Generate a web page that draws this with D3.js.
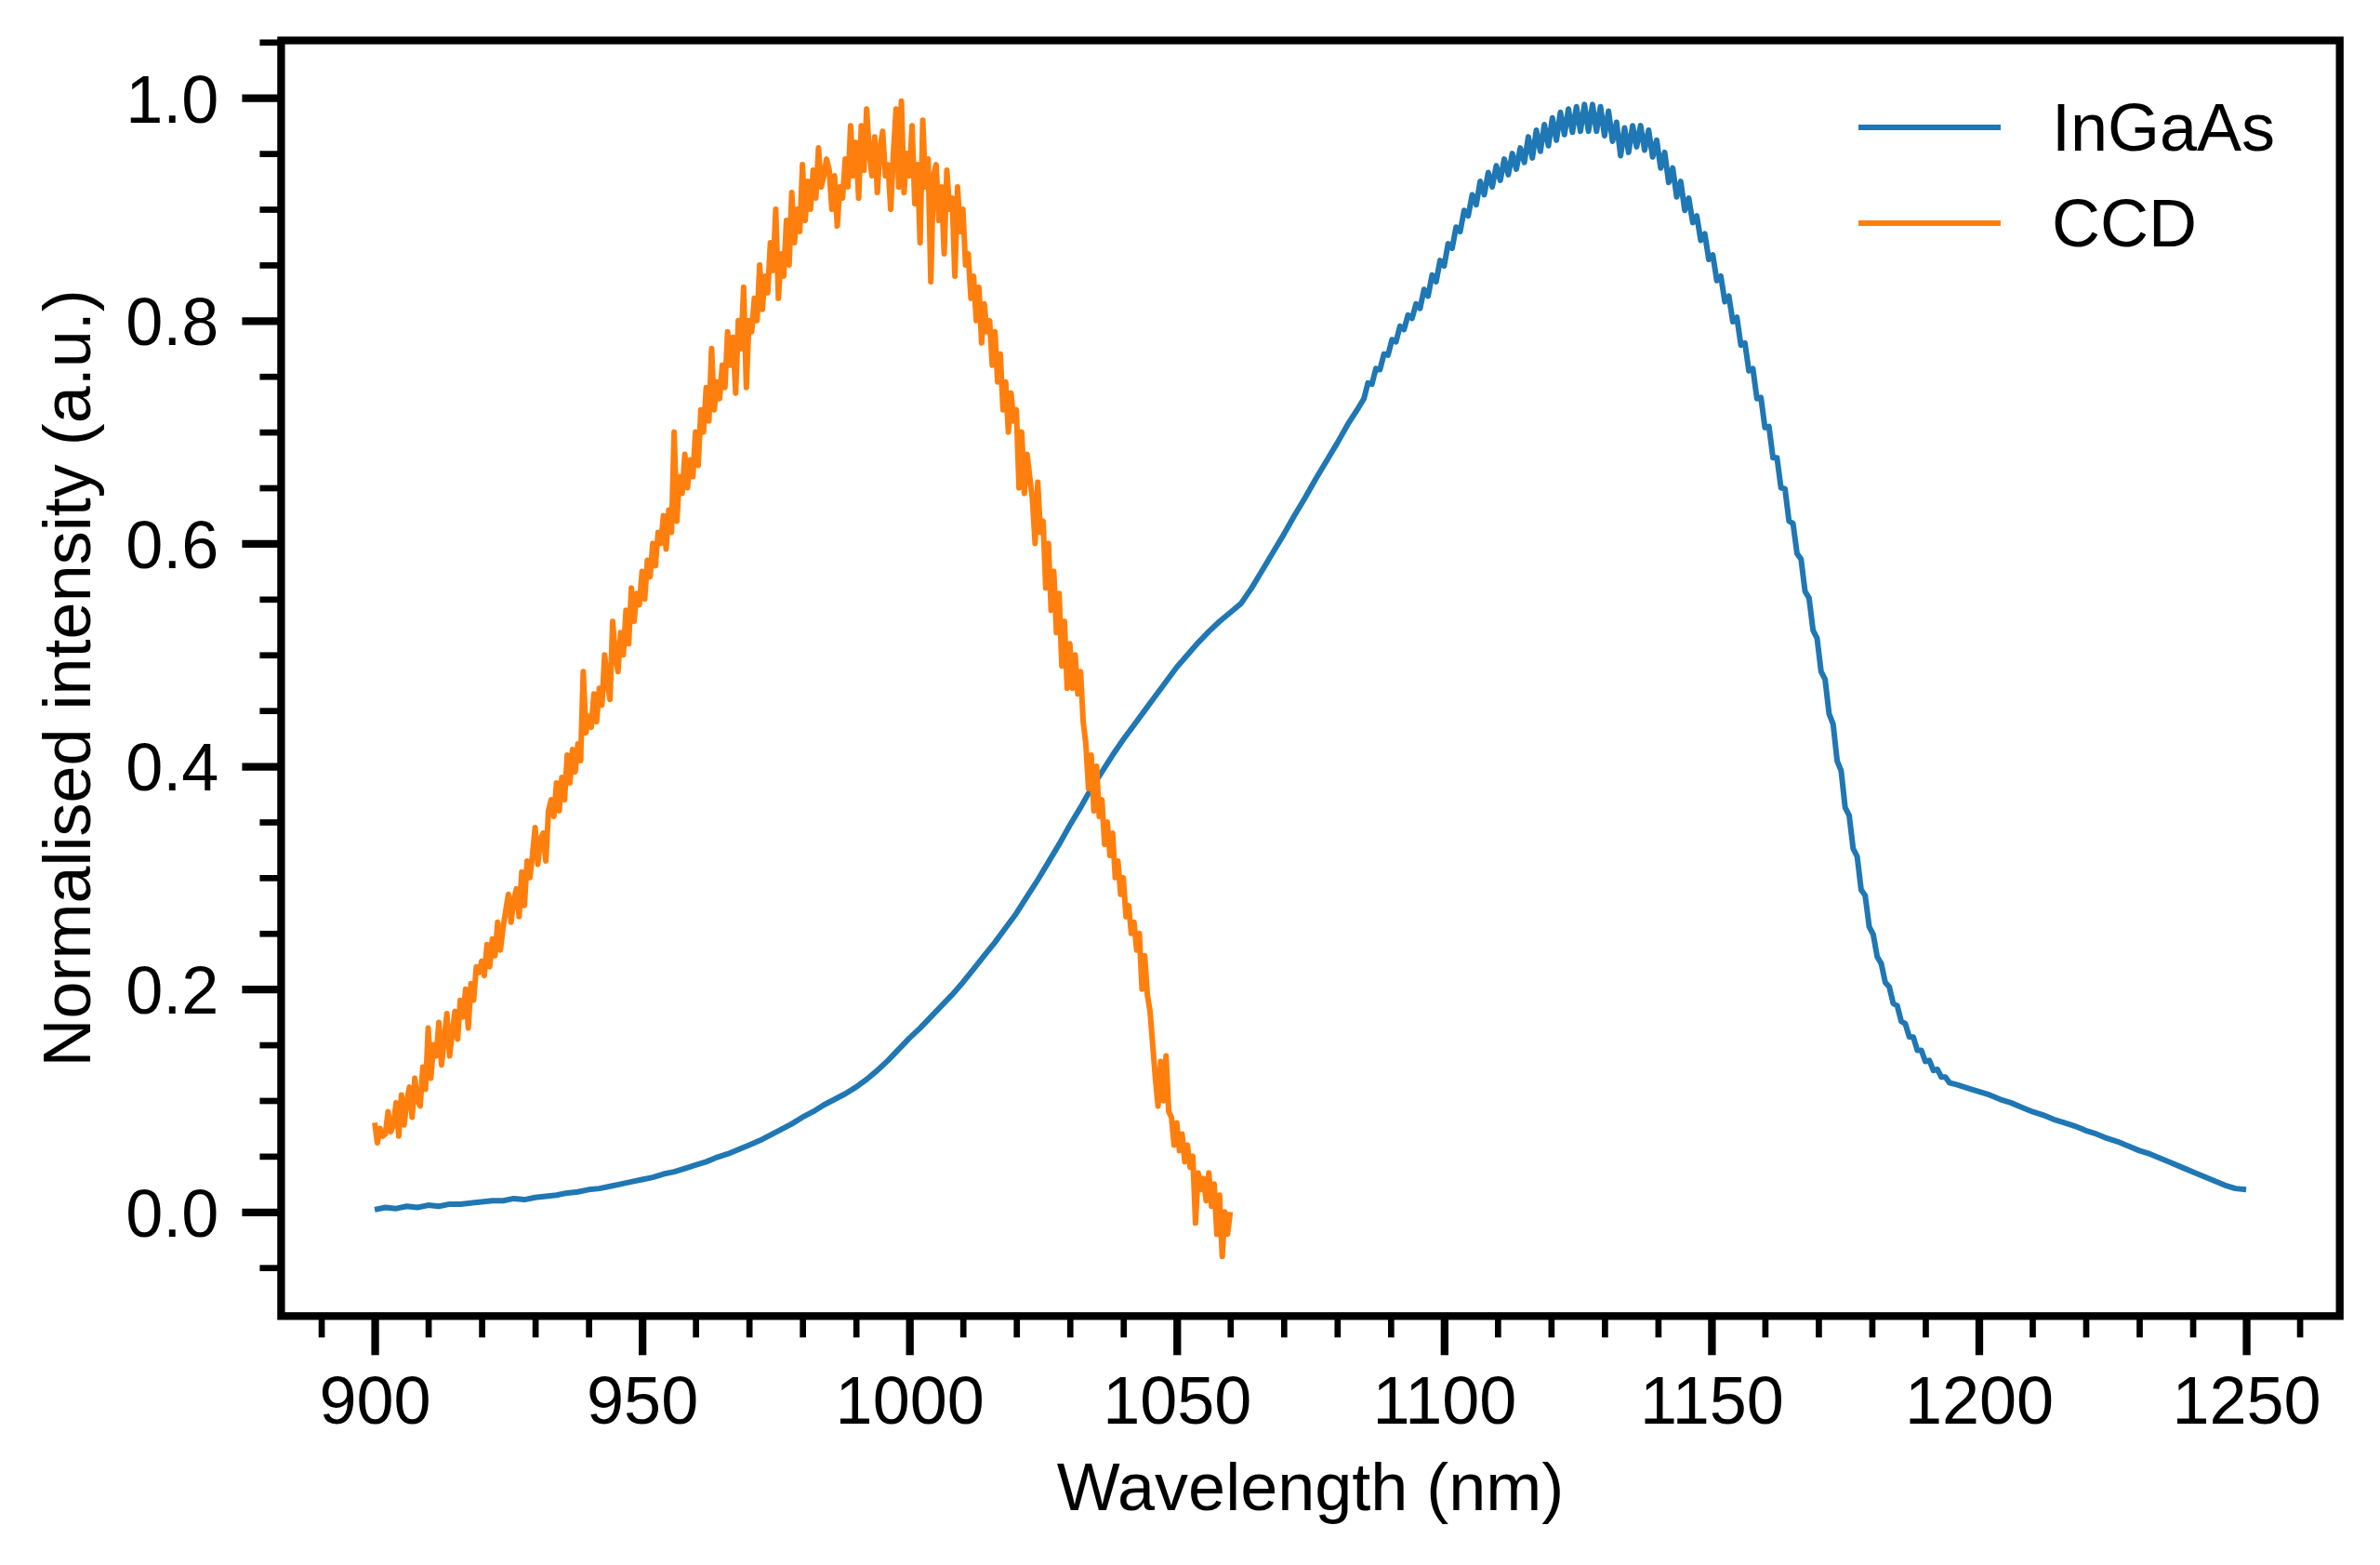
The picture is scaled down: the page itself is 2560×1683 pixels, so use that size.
<!DOCTYPE html>
<html>
<head>
<meta charset="utf-8">
<script src="https://cdn.jsdelivr.net/npm/d3@7"></script>
<style>
  body { margin: 0; background: #fff; }
  svg { display: block; background: #fff; }
</style>
</head>
<body>
<svg id="chart" width="2560" height="1683"></svg>
<script>
// wavelength grids (nm) of the two spectra
const ccdWavelength = d3.range(321).map(i => 900 + i * 0.5);
const ingaasGridA = d3.range(900, 1085, 2);
const ingaasGridB = d3.range(147).map(i => 1085 + i * 0.75);
const ingaasGridC = d3.range(1196, 1251, 2);

// CCD, 900 - 1060 nm every 0.5 nm
const ccdIntensity = [
    0.08, 0.062, 0.075, 0.068, 0.07, 0.09, 0.072, 0.078, 0.098, 0.068,
    0.105, 0.078, 0.10, 0.112, 0.085, 0.12, 0.10, 0.095, 0.13, 0.11,
    0.165, 0.12, 0.15, 0.14, 0.17, 0.132, 0.155, 0.178, 0.14, 0.16,
    0.18, 0.155, 0.19, 0.175, 0.2, 0.165, 0.205, 0.19, 0.22, 0.215,
    0.225, 0.212, 0.24, 0.22, 0.245, 0.23, 0.26, 0.235, 0.255, 0.27,
    0.285, 0.26, 0.28, 0.29, 0.265, 0.305, 0.275, 0.315, 0.3, 0.32,
    0.345, 0.312, 0.335, 0.34, 0.315, 0.36, 0.37, 0.355, 0.385, 0.36,
    0.39, 0.37, 0.41, 0.385, 0.415, 0.395, 0.42, 0.405, 0.485, 0.43,
    0.445, 0.435, 0.465, 0.44, 0.47, 0.455, 0.5, 0.475, 0.46, 0.53,
    0.5, 0.485, 0.52, 0.5, 0.54, 0.51, 0.56, 0.53, 0.555, 0.545,
    0.575, 0.55, 0.585, 0.57, 0.6, 0.58, 0.61, 0.6, 0.625, 0.595,
    0.63, 0.61, 0.7, 0.62, 0.66, 0.645, 0.68, 0.65, 0.675, 0.66,
    0.7, 0.67, 0.72, 0.7, 0.74, 0.71, 0.775, 0.72, 0.745, 0.73,
    0.76, 0.74, 0.79, 0.76, 0.785, 0.735, 0.8, 0.775, 0.83, 0.74,
    0.8, 0.79, 0.82, 0.8, 0.85, 0.81, 0.84, 0.825, 0.87, 0.845,
    0.9, 0.82, 0.86, 0.84, 0.89, 0.85, 0.915, 0.87, 0.9, 0.88,
    0.94, 0.89, 0.925, 0.9, 0.935, 0.91, 0.955, 0.92, 0.93, 0.945,
    0.935, 0.9, 0.93, 0.885, 0.92, 0.91, 0.945, 0.92, 0.975, 0.93,
    0.96, 0.91, 0.975, 0.935, 0.99, 0.95, 0.93, 0.965, 0.915, 0.955,
    0.97, 0.93, 0.94, 0.9, 0.95, 0.99, 0.92, 0.997, 0.915, 0.95,
    0.93, 0.975, 0.905, 0.94, 0.87, 0.98, 0.92, 0.945, 0.835, 0.93,
    0.94, 0.89, 0.92, 0.86, 0.935, 0.9, 0.91, 0.84, 0.92, 0.88,
    0.9, 0.85, 0.86, 0.82, 0.84, 0.8, 0.83, 0.78, 0.815, 0.79,
    0.8, 0.76, 0.79, 0.745, 0.77, 0.72, 0.745, 0.7, 0.735, 0.71,
    0.72, 0.65, 0.7, 0.645, 0.68, 0.66, 0.64, 0.6, 0.655, 0.61,
    0.62, 0.56, 0.6, 0.54, 0.575, 0.52, 0.555, 0.49, 0.53, 0.47,
    0.51, 0.47, 0.5, 0.465, 0.485, 0.44, 0.42, 0.38, 0.41, 0.36,
    0.4, 0.355, 0.37, 0.33, 0.35, 0.32, 0.34, 0.3, 0.315, 0.285,
    0.3, 0.265, 0.275, 0.25, 0.26, 0.235, 0.25, 0.2, 0.23, 0.195,
    0.18, 0.15, 0.12, 0.095, 0.135, 0.1, 0.14, 0.09, 0.085, 0.06,
    0.08, 0.055, 0.07, 0.045, 0.06, 0.04, 0.05, -0.01, 0.035, 0.02,
    0.03, 0.01, 0.035, 0.005, 0.025, -0.02, 0.015, -0.04, 0.0, -0.02,
    0.0
];

// InGaAs, 900 - 1084 nm every 2 nm
const ingaasIntensityA = [
    0.002, 0.004, 0.003, 0.005, 0.004, 0.006, 0.005, 0.007, 0.007, 0.008,
    0.009, 0.010, 0.010, 0.012, 0.011, 0.013, 0.014, 0.015, 0.017, 0.018,
    0.020, 0.021, 0.023, 0.025, 0.027, 0.029, 0.031, 0.034, 0.036, 0.039,
    0.042, 0.045, 0.049, 0.052, 0.056, 0.060, 0.064, 0.069, 0.074, 0.079,
    0.085, 0.090, 0.096, 0.101, 0.106, 0.112, 0.119, 0.127, 0.136, 0.146,
    0.156, 0.165, 0.175, 0.185, 0.195, 0.206, 0.218, 0.230, 0.242, 0.255,
    0.268, 0.283, 0.298, 0.314, 0.330, 0.347, 0.363, 0.380, 0.395, 0.410,
    0.424, 0.437, 0.450, 0.463, 0.476, 0.489, 0.500, 0.511, 0.521, 0.530,
    0.538, 0.546, 0.560, 0.576, 0.592, 0.608, 0.625, 0.641, 0.658, 0.674,
    0.690, 0.707, 0.722
];

// InGaAs, 1085 - 1194.5 nm every 0.75 nm (fringes around the peak)
const ingaasIntensityB = [
    0.730, 0.744, 0.743, 0.757, 0.756, 0.770, 0.769, 0.783, 0.781, 0.795,
    0.792, 0.805, 0.802, 0.815, 0.811, 0.828, 0.822, 0.841, 0.835, 0.854,
    0.849, 0.869, 0.865, 0.884, 0.880, 0.899, 0.894, 0.913, 0.904, 0.925,
    0.913, 0.933, 0.920, 0.939, 0.926, 0.945, 0.931, 0.950, 0.936, 0.955,
    0.942, 0.965, 0.946, 0.971, 0.952, 0.976, 0.957, 0.982, 0.962, 0.987,
    0.967, 0.990, 0.969, 0.992, 0.970, 0.994, 0.970, 0.994, 0.970, 0.992,
    0.966, 0.988, 0.961, 0.978, 0.948, 0.973, 0.951, 0.975, 0.956, 0.975,
    0.953, 0.971, 0.947, 0.962, 0.937, 0.951, 0.924, 0.937, 0.911, 0.925,
    0.899, 0.910, 0.888, 0.894, 0.872, 0.878, 0.855, 0.859, 0.836, 0.840,
    0.817, 0.822, 0.799, 0.803, 0.778, 0.780, 0.755, 0.757, 0.730, 0.731,
    0.704, 0.705, 0.677, 0.677, 0.650, 0.649, 0.620, 0.618, 0.591, 0.586,
    0.557, 0.551, 0.522, 0.515, 0.485, 0.478, 0.447, 0.438, 0.405, 0.396,
    0.363, 0.356, 0.326, 0.319, 0.289, 0.284, 0.256, 0.249, 0.229, 0.223,
    0.206, 0.202, 0.187, 0.185, 0.171, 0.169, 0.157, 0.157, 0.145, 0.145,
    0.135, 0.136, 0.127, 0.128, 0.121, 0.121, 0.116
];

// InGaAs, 1196 - 1250 nm every 2 nm
const ingaasIntensityC = [
    0.114, 0.111, 0.108, 0.105, 0.101, 0.098, 0.094, 0.090, 0.087, 0.083,
    0.080, 0.077, 0.073, 0.070, 0.066, 0.063, 0.059, 0.055, 0.052, 0.048,
    0.044, 0.040, 0.036, 0.032, 0.028, 0.024, 0.021, 0.020
];

const xTicks = [900, 950, 1000, 1050, 1100, 1150, 1200, 1250];
const xMinorTicks = d3.range(890, 1261, 10).filter(v => v % 50 !== 0);
const yTicks = [0.0, 0.2, 0.4, 0.6, 0.8, 1.0];
const yMinorTicks = [-0.05, 0.05, 0.1, 0.15, 0.25, 0.3, 0.35, 0.45, 0.5, 0.55,
    0.65, 0.7, 0.75, 0.85, 0.9, 0.95, 1.05];

const seriesNames = ["InGaAs", "CCD"];
const seriesColors = ["#1f77b4", "#ff7f0e"];

const zip = (xs, ys) => ys.map((v, i) => [xs[i], v]);

const ingaas = zip(ingaasGridA, ingaasIntensityA)
    .concat(zip(ingaasGridB, ingaasIntensityB))
    .concat(zip(ingaasGridC, ingaasIntensityC));
const ccd = zip(ccdWavelength, ccdIntensity);

const FONT = '"Liberation Sans", Arial, Helvetica, sans-serif';

const plot = { left: 302.4, right: 2516.7, top: 43.5, bottom: 1415.3 };

const x = d3.scaleLinear()
    .domain([882.5, 1267.5])
    .range([plot.left, plot.right]);

const y = d3.scaleLinear()
    .domain([-0.0935, 1.0515])
    .range([plot.bottom, plot.top]);

const svg = d3.select("#chart");

svg.append("rect")
    .attr("width", 2560)
    .attr("height", 1683)
    .attr("fill", "#fff");

const line = d3.line()
    .x(d => x(d[0]))
    .y(d => y(d[1]));

[ingaas, ccd].forEach((data, i) => {
    svg.append("path")
        .datum(data)
        .attr("d", line)
        .attr("fill", "none")
        .attr("stroke", seriesColors[i])
        .attr("stroke-width", 6)
        .attr("stroke-linejoin", "round");
});

// minor ticks
svg.append("g")
    .attr("transform", `translate(0,${plot.bottom})`)
    .call(d3.axisBottom(x).tickValues(xMinorTicks).tickSize(23).tickFormat(""))
    .call(g => g.select(".domain").remove())
    .selectAll("line").attr("stroke", "#000").attr("stroke-width", 6.7);

svg.append("g")
    .attr("transform", `translate(${plot.left},0)`)
    .call(d3.axisLeft(y).tickValues(yMinorTicks).tickSize(23).tickFormat(""))
    .call(g => g.select(".domain").remove())
    .selectAll("line").attr("stroke", "#000").attr("stroke-width", 6.7);

// major ticks + labels
const xAxisG = svg.append("g")
    .attr("transform", `translate(0,${plot.bottom})`)
    .call(d3.axisBottom(x).tickValues(xTicks).tickSize(42).tickPadding(23)
        .tickFormat(d3.format("d")));

const yAxisG = svg.append("g")
    .attr("transform", `translate(${plot.left},0)`)
    .call(d3.axisLeft(y).tickValues(yTicks).tickSize(42).tickPadding(25)
        .tickFormat(d3.format(".1f")));

[xAxisG, yAxisG].forEach(g => {
    g.select(".domain").remove();
    g.selectAll("line").attr("stroke", "#000").attr("stroke-width", 8.3);
    g.selectAll("text")
        .attr("fill", "#000")
        .style("font-family", FONT)
        .style("font-size", "72px");
});
yAxisG.selectAll("text").attr("dy", "0.36em");

// frame
svg.append("rect")
    .attr("x", plot.left)
    .attr("y", plot.top)
    .attr("width", plot.right - plot.left)
    .attr("height", plot.bottom - plot.top)
    .attr("fill", "none")
    .attr("stroke", "#000")
    .attr("stroke-width", 8.3);

// axis titles
svg.append("text")
    .attr("x", (plot.left + plot.right) / 2)
    .attr("y", 1624)
    .attr("text-anchor", "middle")
    .style("font-family", FONT)
    .style("font-size", "72px")
    .text("Wavelength (nm)");

svg.append("text")
    .attr("transform", `translate(97,${(plot.top + plot.bottom) / 2}) rotate(-90)`)
    .attr("text-anchor", "middle")
    .style("font-family", FONT)
    .style("font-size", "72px")
    .text("Normalised intensity (a.u.)");

// legend
const legend = svg.append("g");
seriesNames.forEach((name, i) => {
    const ly = 137 + i * 103;
    legend.append("line")
        .attr("x1", 1999).attr("x2", 2152)
        .attr("y1", ly).attr("y2", ly)
        .attr("stroke", seriesColors[i])
        .attr("stroke-width", 6);
    legend.append("text")
        .attr("x", 2207)
        .attr("y", ly + 25)
        .style("font-family", FONT)
        .style("font-size", "72px")
        .text(name);
});
</script>
</body>
</html>
